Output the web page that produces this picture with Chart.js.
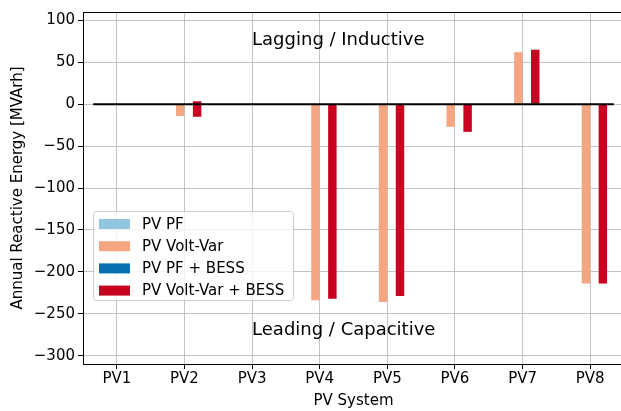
<!DOCTYPE html>
<html>
<head>
<meta charset="utf-8">
<script src="https://cdn.jsdelivr.net/npm/chart.js@4"></script>
<style>
  html, body { margin: 0; padding: 0; background: #fff; overflow: hidden; }
  #wrap { width: 621px; height: 411px; overflow: hidden; }
</style>
</head>
<body>
<div id="wrap"><canvas id="reactiveChart" width="626" height="411"></canvas></div>
<script>
// PV systems along the x axis
const systems = ['PV1', 'PV2', 'PV3', 'PV4', 'PV5', 'PV6', 'PV7', 'PV8'];

// annual reactive energy [MVArh]
const pfValues = [0, 0, 0, 0, 0, 0, 0, 0];
const voltVarValues = [0, -14, 0, -234, -236, -27, 62, -214];
const pfBessValues = [0, 0, 0, 0, 0, 0, 0, 0];
const voltVarBessValues = [0, -15, 0, -232, -229, -33, 65, -214];
const voltVarBessBase = [0, 3.5, 0, 0, 0, 0, 0, 0];

const yTicks = [100, 50, 0, -50, -100, -150, -200, -250, -300];

const notes = [
  { text: 'Lagging / Inductive', x: 2, y: 76 },
  { text: 'Leading / Capacitive', x: 2, y: -270 }
];

Chart.defaults.font.family = 'DejaVu Sans';
Chart.defaults.font.size = 15;
Chart.defaults.color = '#000';

const FONT = '15px "DejaVu Sans"';

// zero line, text notes, spines and the legend box
const overlay = {
  id: 'overlay',
  afterDraw(chart) {
    const { ctx, chartArea: area, scales: { x, y } } = chart;
    const cat = x.getPixelForValue(1) - x.getPixelForValue(0);

    ctx.save();
    // top + right spines
    ctx.strokeStyle = '#000';
    ctx.lineWidth = 1;
    ctx.beginPath();
    ctx.moveTo(area.left, area.top + 0.5);
    ctx.lineTo(area.right, area.top + 0.5);
    ctx.lineTo(area.right, area.bottom);
    ctx.stroke();

    // zero line
    const y0 = y.getPixelForValue(0);
    ctx.lineWidth = 2;
    ctx.beginPath();
    ctx.moveTo(x.getPixelForValue(0) - 0.35 * cat, y0);
    ctx.lineTo(x.getPixelForValue(7) + 0.35 * cat, y0);
    ctx.stroke();

    // notes
    ctx.fillStyle = '#000';
    ctx.font = '18px "DejaVu Sans"';
    ctx.textAlign = 'left';
    ctx.textBaseline = 'middle';
    notes.forEach(n => {
      ctx.fillText(n.text, x.getPixelForValue(n.x), y.getPixelForValue(n.y));
    });

    // legend
    const boxX = area.left + 10, boxW = 200, boxH = 89;
    const boxY = area.bottom - 64 - boxH;
    ctx.fillStyle = 'rgba(255,255,255,0.8)';
    ctx.strokeStyle = '#cccccc';
    ctx.lineWidth = 1;
    ctx.beginPath();
    ctx.roundRect(boxX + 0.5, boxY + 0.5, boxW, boxH, 3);
    ctx.fill();
    ctx.stroke();
    ctx.font = FONT;
    chart.data.datasets.forEach((ds, i) => {
      const cy = boxY + 13 + i * 22.2;
      ctx.fillStyle = ds.backgroundColor;
      ctx.fillRect(boxX + 6, cy - 5, 31, 10);
      ctx.fillStyle = '#000';
      ctx.fillText(ds.label, boxX + 49, cy + 1);
    });
    ctx.restore();
  }
};

new Chart(document.getElementById('reactiveChart'), {
  type: 'bar',
  data: {
    labels: systems,
    datasets: [
      { label: 'PV PF', data: pfValues, backgroundColor: '#92c5de' },
      { label: 'PV Volt-Var', data: voltVarValues, backgroundColor: '#f4a582' },
      { label: 'PV PF + BESS', data: pfBessValues, backgroundColor: '#0571b0' },
      {
        label: 'PV Volt-Var + BESS',
        data: voltVarBessValues.map((v, i) => [voltVarBessBase[i], v]),
        backgroundColor: '#ca0020'
      }
    ]
  },
  options: {
    responsive: false,
    animation: false,
    layout: { padding: { top: 12, right: 2, left: 0, bottom: 0 } },
    datasets: {
      bar: { categoryPercentage: 0.5, barPercentage: 1.0, borderWidth: 0 }
    },
    plugins: {
      legend: { display: false },
      tooltip: { enabled: false }
    },
    scales: {
      x: {
        z: 1,
        offset: true,
        grid: { offset: false, color: '#c4c4c4', lineWidth: 1, tickLength: 5, tickColor: '#000' },
        border: { display: true, color: '#000', width: 1 },
        ticks: { padding: 1, maxRotation: 0 },
        title: { display: true, text: 'PV System', padding: { top: 0, bottom: 1 } },
        afterFit(scale) { scale.height = 47; }
      },
      y: {
        z: 1,
        min: -310,
        max: 110,
        afterBuildTicks(scale) { scale.ticks = yTicks.map(v => ({ value: v })); },
        grid: { color: '#c4c4c4', lineWidth: 1, tickLength: 5, tickColor: '#000' },
        border: { display: true, color: '#000', width: 1 },
        ticks: {
          padding: 3,
          callback: v => (v < 0 ? '\u2212' + Math.abs(v) : String(v))
        },
        title: { display: true, text: 'Annual Reactive Energy [MVArh]', padding: { top: 9, bottom: 0 } },
        afterFit(scale) { scale.width = 83; }
      }
    }
  },
  plugins: [overlay]
});
</script>
</body>
</html>
